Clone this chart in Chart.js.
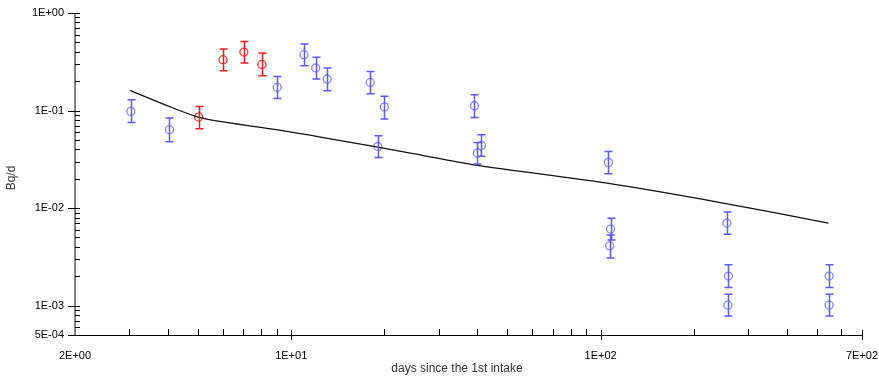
<!DOCTYPE html>
<html>
<head>
<meta charset="utf-8">
<script src="https://cdn.jsdelivr.net/npm/chart.js@4.4.1/dist/chart.umd.min.js"></script>
<style>
  html, body { margin: 0; padding: 0; background: #fff; }
  #wrap { width: 879px; height: 383px; position: relative; }
</style>
</head>
<body>
<div id="wrap"><canvas id="chart"></canvas></div>
<script>
// measured points (blue)
const blueX  = [3.03, 4.04, 9.01, 11.0, 12.0, 13.06, 18.0, 19.05, 20.0, 39.1, 40.0, 41.2, 106, 107.7, 107, 256, 259, 258, 548, 548];
const blueY  = [0.098, 0.0636, 0.173, 0.374, 0.273, 0.21, 0.194, 0.0428, 0.109, 0.112, 0.0366, 0.0439, 0.0294, 0.0061, 0.0041, 0.00702, 0.00201, 0.00101, 0.00201, 0.00101];
const blueLo = [0.0755, 0.048, 0.133, 0.288, 0.21, 0.16, 0.149, 0.033, 0.082, 0.085, 0.0283, 0.0339, 0.0225, 0.0047, 0.00307, 0.0054, 0.00153, 0.000785, 0.00153, 0.000785];
const blueHi = [0.129, 0.0838, 0.224, 0.481, 0.351, 0.273, 0.252, 0.055, 0.14, 0.145, 0.047, 0.0565, 0.038, 0.00789, 0.0053, 0.0091, 0.00262, 0.00131, 0.00262, 0.00131];

// measured points (red)
const redX  = [5.02, 6.02, 7.03, 8.04];
const redY  = [0.0858, 0.332, 0.398, 0.297];
const redLo = [0.065, 0.256, 0.307, 0.227];
const redHi = [0.110, 0.427, 0.511, 0.389];

// model curve
const fitX = [3.01, 3.95, 5.0, 6.17, 8.95, 12.97, 19.05, 25.3, 39.0, 105, 244, 545];
const fitY = [0.161, 0.113, 0.0858, 0.0755, 0.0636, 0.0522, 0.0422, 0.0358, 0.0278, 0.018, 0.0114, 0.00702];

// axis ticks
const xTicks = [2, 10, 100, 700];
const xLabels = ['2E+00', '1E+01', '1E+02', '7E+02'];
const yTicks = [0.0005, 0.001, 0.01, 0.1, 1];
const yLabels = ['5E-04', '1E-03', '1E-02', '1E-01', '1E+00'];

const xTitle = 'days since the 1st intake';
const yTitle = 'Bq/d';

function toPoints(xs, ys, lo, hi) {
  return xs.map((x, i) => ({ x: x, y: ys[i], lo: lo ? lo[i] : null, hi: hi ? hi[i] : null }));
}

function minorValues(min, max) {
  const out = [];
  for (let e = -5; e <= 3; e++) {
    for (let m = 1; m <= 9; m++) {
      const v = m * Math.pow(10, e);
      if (v > min * 1.0001 && v < max * 0.9999) out.push(v);
    }
  }
  return out;
}

// error bars, ticks, axis lines and titles
const decorPlugin = {
  id: 'decor',
  afterDatasetsDraw(chart) {
    const ctx = chart.ctx;
    const xs = chart.scales.x, ys = chart.scales.y;
    const area = chart.chartArea;

    chart.data.datasets.forEach(ds => {
      if (!ds.barColor) return;
      ctx.save();
      ctx.strokeStyle = ds.barColor;
      ctx.lineWidth = 1.5;
      ds.data.forEach(p => {
        const px = Math.round(xs.getPixelForValue(p.x)) + 0.5;
        const top = ys.getPixelForValue(p.hi);
        const bot = ys.getPixelForValue(p.lo);
        ctx.beginPath();
        ctx.moveTo(px, top); ctx.lineTo(px, bot);
        ctx.moveTo(px - 4, top); ctx.lineTo(px + 4, top);
        ctx.moveTo(px - 4, bot); ctx.lineTo(px + 4, bot);
        ctx.stroke();
      });
      ctx.restore();
    });

    ctx.save();
    // y axis
    ctx.strokeStyle = '#808080';
    ctx.lineWidth = 2;
    ctx.beginPath();
    ctx.moveTo(area.left, area.top); ctx.lineTo(area.left, area.bottom);
    ctx.stroke();
    // x axis
    ctx.strokeStyle = '#000';
    ctx.lineWidth = 1;
    ctx.beginPath();
    ctx.moveTo(area.left - 7, area.bottom + 0.5); ctx.lineTo(area.right, area.bottom + 0.5);
    ctx.stroke();

    ctx.beginPath();
    yTicks.forEach(v => {
      const py = Math.round(ys.getPixelForValue(v)) + 0.5;
      ctx.moveTo(area.left - 7, py); ctx.lineTo(area.left + 5, py);
    });
    minorValues(ys.min, ys.max).forEach(v => {
      if (yTicks.includes(v)) return;
      const py = Math.round(ys.getPixelForValue(v)) + 0.5;
      ctx.moveTo(area.left, py); ctx.lineTo(area.left + 5, py);
    });
    xTicks.slice(1).forEach(v => {
      const px = Math.round(xs.getPixelForValue(v)) + 0.5;
      ctx.moveTo(px, area.bottom - 5); ctx.lineTo(px, area.bottom + 5);
    });
    minorValues(xs.min, xs.max).forEach(v => {
      if (xTicks.includes(v)) return;
      const px = Math.round(xs.getPixelForValue(v)) + 0.5;
      ctx.moveTo(px, area.bottom - 6); ctx.lineTo(px, area.bottom);
    });
    ctx.stroke();

    // titles
    ctx.fillStyle = '#333';
    ctx.font = '12px "Liberation Sans", Arial, sans-serif';
    ctx.textAlign = 'center';
    ctx.textBaseline = 'middle';
    ctx.fillText(xTitle, 457, 369);
    ctx.translate(12, 178);
    ctx.rotate(-Math.PI / 2);
    ctx.fillText(yTitle, 0, 0);
    ctx.restore();
  }
};

const tickFont = { family: '"Liberation Sans", Arial, sans-serif', size: 11 };

new Chart(document.getElementById('chart'), {
  type: 'scatter',
  data: {
    datasets: [
      {
        label: 'model',
        type: 'line',
        data: toPoints(fitX, fitY),
        borderColor: '#111',
        borderWidth: 1.3,
        pointRadius: 0,
        fill: false,
        tension: 0.3
      },
      {
        label: 'blue',
        data: toPoints(blueX, blueY, blueLo, blueHi),
        borderColor: '#8484ff',
        backgroundColor: 'rgba(0,0,0,0)',
        pointRadius: 4,
        pointBorderWidth: 1.3,
        barColor: '#5a5aff'
      },
      {
        label: 'red',
        data: toPoints(redX, redY, redLo, redHi),
        borderColor: '#ff3030',
        backgroundColor: 'rgba(0,0,0,0)',
        pointRadius: 4,
        pointBorderWidth: 1.3,
        barColor: '#ee1c1c'
      }
    ]
  },
  options: {
    responsive: true,
    maintainAspectRatio: false,
    animation: false,
    layout: { padding: { left: 0, right: 17, top: 13, bottom: 0 } },
    plugins: { legend: { display: false }, tooltip: { enabled: false } },
    scales: {
      x: {
        type: 'logarithmic',
        min: 2,
        max: 700,
        grid: { display: false, drawTicks: false },
        border: { display: false },
        afterBuildTicks: s => { s.ticks = xTicks.map(v => ({ value: v })); },
        afterFit: s => { s.height = 48; s.paddingLeft = 0; s.paddingRight = 0; },
        ticks: {
          color: '#000',
          font: tickFont,
          padding: 14,
          maxRotation: 0,
          autoSkip: false,
          callback: (v) => xLabels[xTicks.indexOf(v)]
        }
      },
      y: {
        type: 'logarithmic',
        min: 0.0005,
        max: 1,
        grid: { display: false, drawTicks: false },
        border: { display: false },
        afterBuildTicks: s => { s.ticks = yTicks.map(v => ({ value: v })); },
        afterFit: s => { s.width = 75; s.paddingTop = 0; s.paddingBottom = 0; },
        ticks: {
          color: '#000',
          font: tickFont,
          padding: 11,
          autoSkip: false,
          callback: (v) => yLabels[yTicks.indexOf(v)]
        }
      }
    }
  },
  plugins: [decorPlugin]
});
</script>
</body>
</html>
